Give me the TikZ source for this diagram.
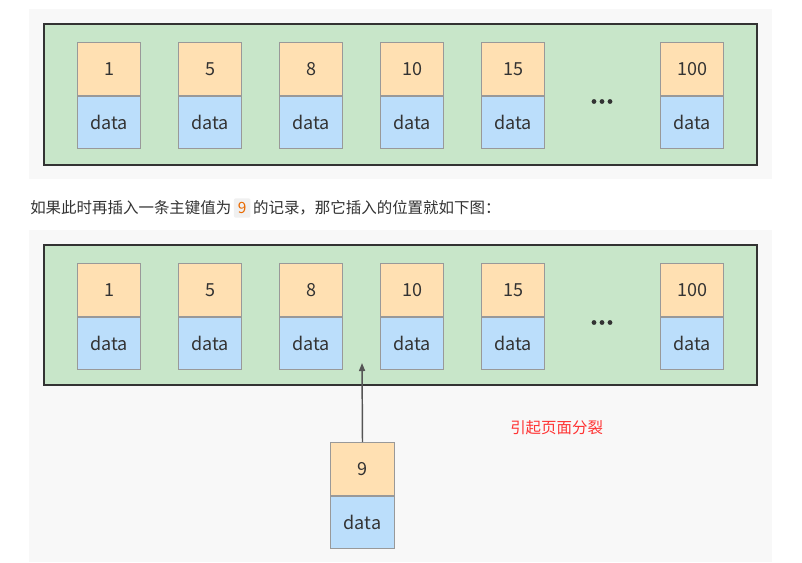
\documentclass[tikz,border=0pt]{standalone}
\usepackage{fontspec}
\setmainfont{Noto Sans CJK SC}
\usetikzlibrary{arrows.meta}
\definecolor{keyfill}{HTML}{FFE0B2}
\definecolor{datafill}{HTML}{BBDEFB}
\definecolor{greenfill}{HTML}{C8E6C9}
\definecolor{greenline}{HTML}{333333}
\definecolor{boxline}{HTML}{999999}
\definecolor{panelbg}{HTML}{F8F8F8}
\definecolor{txt}{HTML}{333333}
\definecolor{codeorange}{HTML}{E96900}
\definecolor{codebg}{HTML}{F0F0F0}
\definecolor{redtxt}{HTML}{FF3333}
\definecolor{arrowgray}{HTML}{555555}
\begin{document}
\begin{tikzpicture}[x=0.75pt,y=-0.75pt,
  keybox/.style={draw=boxline, fill=keyfill, line width=0.75pt, minimum width=47.5pt, minimum height=39.75pt, inner sep=0pt, anchor=north west, text=txt, font=\fontsize{13.5}{16}\selectfont},
  databox/.style={draw=boxline, fill=datafill, line width=0.75pt, minimum width=47.5pt, minimum height=39pt, inner sep=0pt, anchor=north, text=txt, font=\fontsize{13.5}{16}\selectfont},
  container/.style={draw=greenline, fill=greenfill, line width=1pt},
  dot/.style={circle, fill=txt, inner sep=0pt, minimum size=3.6pt},
  prose/.style={text=txt, inner sep=0pt, anchor=west, font=\fontsize{11.6}{14}\selectfont},
  connector/.style={draw=arrowgray, line width=1.1pt, -{Triangle[length=6pt,width=4.5pt]}}]
\useasboundingbox (0,0) rectangle (802,562);
\fill[white] (0,0) rectangle (802,562);
% panels
\fill[panelbg] (29,9) rectangle (772,179);
\fill[panelbg] (29,230) rectangle (772,562);
% top panel
\draw[container] (44,24) rectangle (757,165);
\foreach \k/\x in {1/77, 5/178, 8/279, 10/380, 15/481, 100/660} {
  \node[keybox] (tk\k) at (\x,42) {\k};
  \node[databox] (td\k) at (tk\k.south) {data};
}
\node[dot] (tdotA) at (594,101.5) {};
\node[dot] (tdotB) at (602,101.5) {};
\node[dot] (tdotC) at (610,101.5) {};
% sentence
\node[prose] (sentence) at (30,208) {如果此时再插入一条主键值为\,\tikz[baseline=(c.base)]\node[fill=codebg, rounded corners=1.5pt, text=codeorange, inner xsep=3pt, inner ysep=3pt] (c) {9};\,的记录，那它插入的位置就如下图：};
% bottom panel
\draw[container] (44,245) rectangle (757,385);
\foreach \k/\x in {1/77, 5/178, 8/279, 10/380, 15/481, 100/660} {
  \node[keybox] (bk\k) at (\x,263) {\k};
  \node[databox] (bd\k) at (bk\k.south) {data};
}
\node[dot] (bdotA) at (594,322.5) {};
\node[dot] (bdotB) at (602,322.5) {};
\node[dot] (bdotC) at (610,322.5) {};
% new record
\node[keybox, minimum width=48pt] (nk9) at (330,442) {9};
\node[databox, minimum width=48pt] (nd9) at (nk9.south) {data};
\coordinate (slot) at (362,363);
\draw[connector] (nk9.north) -- (slot);
\node[prose, text=redtxt] (split) at (510,428) {引起页面分裂};
\end{tikzpicture}
\end{document}
